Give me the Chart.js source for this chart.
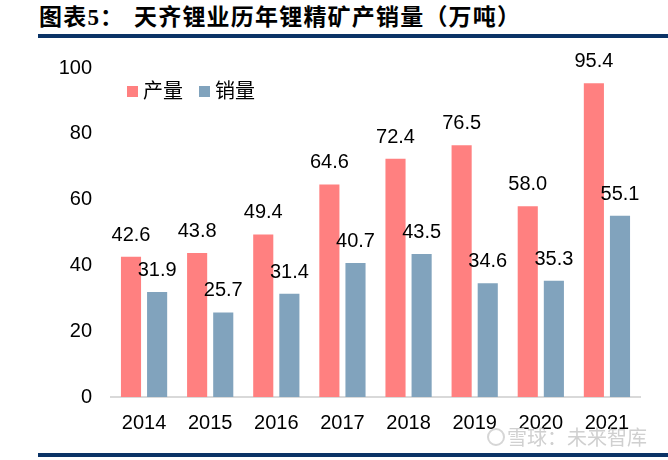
<!DOCTYPE html>
<html>
<head>
<meta charset="utf-8">
<script src="https://cdn.jsdelivr.net/npm/chart.js@4"></script>
<style>
  html, body { margin: 0; padding: 0; background: #fff; }
  #wrap { position: relative; width: 668px; height: 460px; overflow: hidden; }
  #chart { position: absolute; left: 0; top: 0; }
  .title {
    position: absolute; top: 0px; white-space: nowrap;
    font: bold 23px "Noto Sans CJK SC", sans-serif; color: #000; line-height: 30px;
    letter-spacing: 1.2px;
  }
  .title .num { font-family: "Liberation Serif", serif; }
  .rule { position: absolute; left: 38px; width: 630px; height: 4px; background: #0B3366; }
  .legend { position: absolute; top: 76px; font: 20px "Noto Sans CJK SC", sans-serif; line-height: 28px; color: #000; }
  .legend span.box { display: inline-block; width: 11px; height: 11px; margin-right: 5px; vertical-align: 1px; }
  .mark {
    position: absolute; left: 487px; top: 423px; white-space: nowrap;
    font: 20px "Noto Sans CJK SC", sans-serif; color: #D0D0D0; line-height: 28px;
  }
  .mark .ico { display: inline-block; width: 14px; height: 14px; border: 2px solid #D6D6D6; border-radius: 50%; margin-right: 2px; vertical-align: -1px; }
</style>
</head>
<body>
<div id="wrap">
  <div class="title" style="left:39px">图表<span class="num">5</span>：</div>
  <div class="title" style="left:134px">天齐锂业历年锂精矿产销量（万吨）</div>
  <div class="rule" style="top:34px"></div>
  <canvas id="chart" width="668" height="460"></canvas>
  <div class="legend" style="left:127px"><span class="box" style="background:#FF8080"></span>产量</div>
  <div class="legend" style="left:199px"><span class="box" style="background:#81A3BD"></span>销量</div>
  <div class="mark"><span class="ico"></span>雪球：未来智库</div>
  <div class="rule" style="top:453px"></div>
</div>
<script>
// Chart data
const years = ['2014', '2015', '2016', '2017', '2018', '2019', '2020', '2021'];
const output = [42.6, 43.8, 49.4, 64.6, 72.4, 76.5, 58.0, 95.4];
const sales = [31.9, 25.7, 31.4, 40.7, 43.5, 34.6, 35.3, 55.1];
const yTicks = [0, 20, 40, 60, 80, 100];

const numFont = { family: '"Liberation Sans", Arial, sans-serif', size: 20 };

// value labels above each bar
const barLabels = {
  id: 'barLabels',
  afterDatasetsDraw(chart) {
    const ctx = chart.ctx;
    ctx.save();
    ctx.font = '20px "Liberation Sans", Arial, sans-serif';
    ctx.fillStyle = '#000';
    ctx.textAlign = 'center';
    ctx.textBaseline = 'alphabetic';
    chart.data.datasets.forEach((ds, i) => {
      chart.getDatasetMeta(i).data.forEach((bar, j) => {
        ctx.fillText(ds.data[j].toFixed(1), bar.x, bar.y - 16);
      });
    });
    ctx.restore();
  }
};

new Chart(document.getElementById('chart'), {
  type: 'bar',
  data: {
    labels: years,
    datasets: [
      { label: '产量', data: output, backgroundColor: '#FF8080' },
      { label: '销量', data: sales, backgroundColor: '#81A3BD' }
    ]
  },
  options: {
    responsive: false,
    animation: false,
    devicePixelRatio: 1,
    layout: { padding: { left: 0, top: 68, right: 28, bottom: 13 } },
    categoryPercentage: 0.79,
    barPercentage: 0.77,
    plugins: { legend: { display: false }, tooltip: { enabled: false } },
    scales: {
      x: {
        grid: { display: false, drawTicks: false },
        border: { display: true, color: '#D9D9D9', width: 2 },
        ticks: { color: '#000', font: numFont, padding: 14 },
        afterFit(scale) { scale.height = 50; }
      },
      y: {
        min: 0,
        max: 100,
        afterBuildTicks(scale) { scale.ticks = yTicks.map(v => ({ value: v })); },
        grid: { display: false, drawTicks: false },
        border: { display: false },
        ticks: { color: '#000', font: numFont, padding: 19 },
        afterFit(scale) { scale.width = 111; }
      }
    }
  },
  plugins: [barLabels]
});
</script>
</body>
</html>
